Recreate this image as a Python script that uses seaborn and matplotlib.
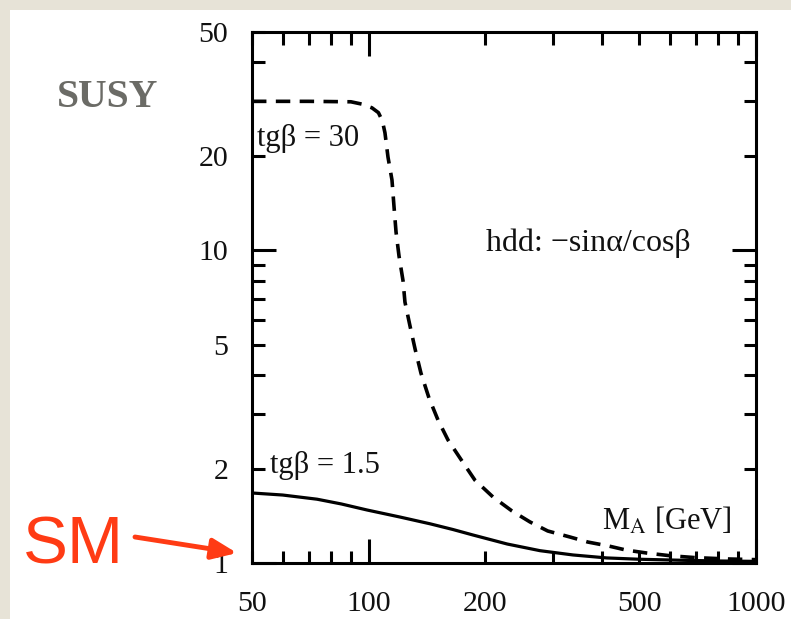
import matplotlib
matplotlib.use("Agg")
import matplotlib.pyplot as plt
from matplotlib.patches import Rectangle
from matplotlib.ticker import FixedLocator, FuncFormatter
import seaborn as sns
import pandas as pd

# M_A [GeV] and the hdd coupling ratio -sin(alpha)/cos(beta)
mass_tb30 = [50, 70, 90, 96, 102, 106, 108.5, 110.2, 112.2, 114.9, 116.3, 117.7,
             119.8, 122.7, 124.1, 127.9, 131.8, 136.5, 143.2, 151, 160.3, 174.2,
             188, 209.5, 234.5, 261, 290, 331, 368, 417, 462, 523, 600, 700, 850, 1000]
coup_tb30 = [30.0, 30.0, 29.9, 29.4, 28.6, 27.6, 26.0, 23.8, 19.9, 16.8, 13.8, 11.46,
             9.6, 8.0, 6.84, 5.73, 4.84, 4.05, 3.37, 2.87, 2.475, 2.12,
             1.843, 1.626, 1.467, 1.353, 1.266, 1.211, 1.167, 1.133, 1.10, 1.076, 1.055,
             1.04, 1.03, 1.025]

mass_tb15 = [50, 60, 73.6, 85, 99, 120.5, 144, 165, 186, 228, 277, 337, 412, 500,
             650, 800, 1000]
coup_tb15 = [1.675, 1.65, 1.60, 1.545, 1.478, 1.403, 1.335, 1.28, 1.229, 1.15,
             1.095, 1.061, 1.038, 1.028, 1.02, 1.015, 1.012]

x_tick_labels = [50, 100, 200, 500, 1000]
y_tick_labels = [1, 2, 5, 10, 20, 50]

sns.set_style("ticks")
plt.rcParams["font.family"] = ["Liberation Serif", "DejaVu Serif"]
plt.rcParams["mathtext.fontset"] = "stix"

fig = plt.figure(figsize=(7.91, 6.19), dpi=100)
fig.patch.set_facecolor("#e7e3d7")
fig.patches.append(Rectangle((10 / 791, 0), 1 - 10 / 791, 1 - 10 / 619,
                             transform=fig.transFigure, facecolor="white",
                             edgecolor="none", zorder=-5))

ax = fig.add_axes([252 / 791, 56 / 619, 504 / 791, 531 / 619])
ax.set_facecolor("white")

df30 = pd.DataFrame({"mass": mass_tb30, "coupling": coup_tb30})
df15 = pd.DataFrame({"mass": mass_tb15, "coupling": coup_tb15})
sns.lineplot(data=df30, x="mass", y="coupling", ax=ax, color="black",
             linewidth=2.6, linestyle=(0, (4.0, 2.6)), estimator=None)
sns.lineplot(data=df15, x="mass", y="coupling", ax=ax, color="black",
             linewidth=2.3, estimator=None)

ax.set_xscale("log")
ax.set_yscale("log")
ax.set_xlim(50, 1000)
ax.set_ylim(1, 50)
ax.set_xlabel("")
ax.set_ylabel("")

# decade ticks long, the rest short; labels only at the chosen values
ax.xaxis.set_major_locator(FixedLocator([100, 1000]))
ax.xaxis.set_minor_locator(FixedLocator([50, 60, 70, 80, 90, 200, 300, 400, 500,
                                         600, 700, 800, 900]))
ax.yaxis.set_major_locator(FixedLocator([1, 10]))
ax.yaxis.set_minor_locator(FixedLocator([2, 3, 4, 5, 6, 7, 8, 9, 20, 30, 40, 50]))


def make_fmt(labels):
    return FuncFormatter(lambda v, pos: f"{v:g}" if round(v) in labels else "")


ax.xaxis.set_major_formatter(make_fmt(x_tick_labels))
ax.xaxis.set_minor_formatter(make_fmt(x_tick_labels))
ax.yaxis.set_major_formatter(make_fmt(y_tick_labels))
ax.yaxis.set_minor_formatter(make_fmt(y_tick_labels))

ax.tick_params(which="both", direction="in", top=True, right=True,
               width=2.2, color="black", labelsize=21.5, labelcolor="#111111")
ax.tick_params(which="major", length=17)
ax.tick_params(which="minor", length=9)
ax.tick_params(axis="x", which="both", pad=20)
ax.tick_params(axis="y", which="both", pad=17)

for sp in ax.spines.values():
    sp.set_visible(True)
    sp.set_linewidth(2.2)
    sp.set_color("black")

ax.text(0.01, 0.80, "tgβ = 30", transform=ax.transAxes, fontsize=22,
        ha="left", va="center", color="#111111")
ax.text(0.036, 0.183, "tgβ = 1.5", transform=ax.transAxes, fontsize=22,
        ha="left", va="center", color="#111111")
ax.text(0.464, 0.603, "hdd: −sinα/cosβ", transform=ax.transAxes, fontsize=23,
        ha="left", va="center", color="#111111")
ax.text(0.694, 0.062, r"M$_\mathrm{A}$ [GeV]", transform=ax.transAxes, fontsize=22,
        ha="left", va="baseline", color="#111111")

fig.text(57 / 791, 1 - 97.5 / 619, "SUSY", fontsize=28.5, fontweight="bold",
         color="#6b6b66", ha="left", va="center")

red = "#ff3b14"
fig.text(23 / 791, 1 - 563 / 619, "SM", fontsize=48.5, color=red,
         family=["Liberation Sans", "DejaVu Sans"], ha="left", va="baseline")
ax.annotate("", xy=(237, 619 - 553), xytext=(135, 619 - 537),
            xycoords="figure pixels", textcoords="figure pixels",
            annotation_clip=False,
            arrowprops=dict(arrowstyle="-|>,head_length=0.6,head_width=0.25",
                            color=red, lw=3.5, mutation_scale=25,
                            shrinkA=0, shrinkB=0))

fig.savefig("out.png", dpi=100, facecolor=fig.get_facecolor())
